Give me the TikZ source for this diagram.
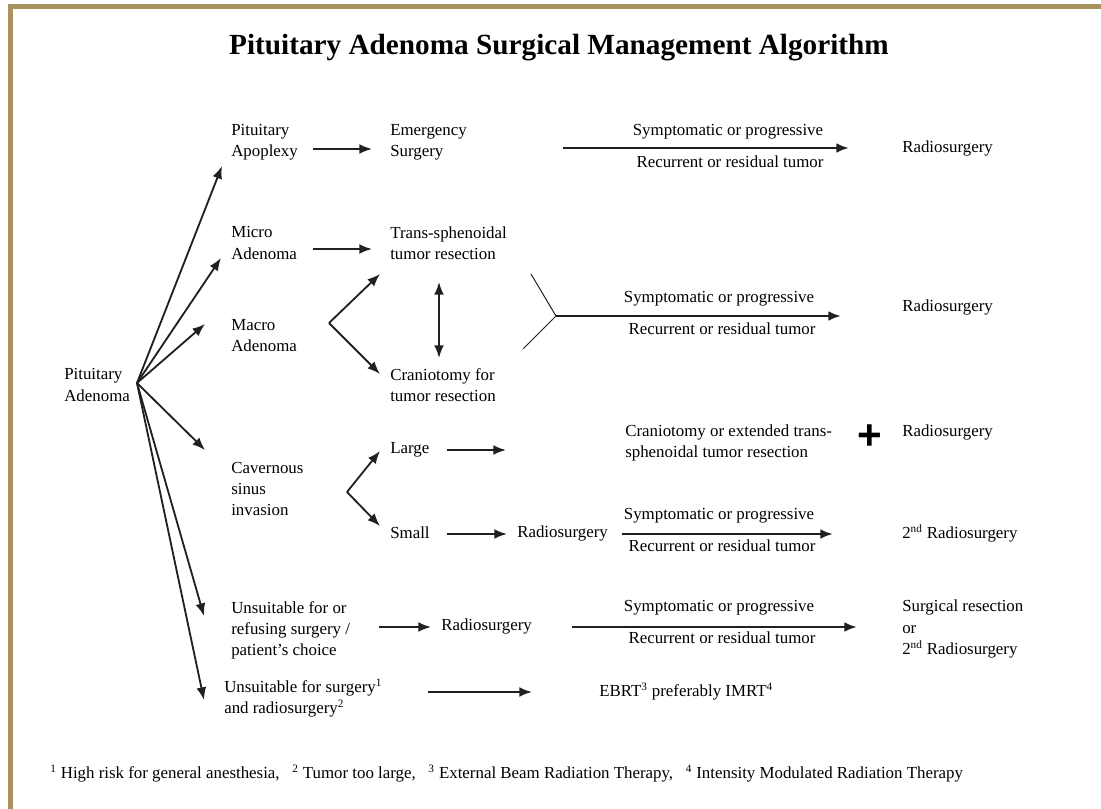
\documentclass[tikz,border=0pt]{standalone}
\usepackage{fontspec}
\setmainfont{Liberation Serif}
\newfontfamily\plusfont{Liberation Sans}
\usepackage{tikz}
\usetikzlibrary{arrows.meta}
\definecolor{framegold}{RGB}{168,146,96}
\definecolor{ink}{RGB}{35,31,32}
\tikzset{
    every node/.style={inner sep=0pt, anchor=west, align=left,
    	font=\fontsize{12}{15}\selectfont}
}
\tikzset{
    every edge/.append style={draw=ink, line width=1.3pt,
    	-{Latex[length=9pt,width=7pt]}}
}
\tikzset{
	long edge/.style={line width=1.8pt},
	thin edge/.style={line width=0.7pt, -},
	both tips/.style={{Latex[length=9pt,width=7pt]}-{Latex[length=9pt,width=7pt]}},
	cond/.style={anchor=center, align=center},
	title text/.style={anchor=center, font=\fontsize{20.8}{24}\bfseries\selectfont},
	frame line/.style={draw=framegold, line width=3.6pt}
}

\begin{document}
\begin{tikzpicture}[x=0.025cm, y=-0.025cm]
	\useasboundingbox (0,0) rectangle (1101,809);
	\draw[frame line] (10.5,809) -- (10.5,6.5) -- (1101,6.5);

	\node (title) [title text] at (559,48) {Pituitary Adenoma Surgical Management Algorithm};

	% first column
	\node (adenoma) at (64,385) {Pituitary\\Adenoma};
	\node (apoplexy) at (231,142) {Pituitary\\Apoplexy};
	\node (micro) at (231,243) {Micro\\Adenoma};
	\node (macro) at (231,336) {Macro\\Adenoma};
	\node (cavernous) at (231,489) {Cavernous\\sinus\\invasion};
	\node (refusing) at (231,630) {Unsuitable for or\\refusing surgery /\\patient's choice};
	\node (unsuitable) at (224,698) {Unsuitable for surgery\textsuperscript{1}\\and radiosurgery\textsuperscript{2}};

	% second column
	\node (emergency) at (390,142) {Emergency\\Surgery};
	\node (transsph) at (390,243) {Trans-sphenoidal\\tumor resection};
	\node (craniotomy) at (390,385) {Craniotomy for\\tumor resection};
	\node (large) at (390,450) {Large};
	\node (small) at (390,533) {Small};
	\node (rs small) at (517,533) {Radiosurgery};
	\node (rs refusing) at (441,626) {Radiosurgery};
	\node (extended) at (625,443) {Craniotomy or extended trans-\\sphenoidal tumor resection};
	\node (ebrt) at (599,692) {EBRT\textsuperscript{3} preferably IMRT\textsuperscript{4}};

	% conditions
	\node (sym a) [cond] at (728,132) {Symptomatic or progressive};
	\node (rec a) [cond] at (730,162) {Recurrent or residual tumor};
	\node (sym b) [cond] at (719,299) {Symptomatic or progressive};
	\node (rec b) [cond] at (722,329) {Recurrent or residual tumor};
	\node (sym c) [cond] at (719,516) {Symptomatic or progressive};
	\node (rec c) [cond] at (722,546) {Recurrent or residual tumor};
	\node (sym d) [cond] at (719,608) {Symptomatic or progressive};
	\node (rec d) [cond] at (722,638) {Recurrent or residual tumor};

	% last column
	\node (rs apoplexy) at (902,148) {Radiosurgery};
	\node (rs adenoma) at (902,307) {Radiosurgery};
	\node (plus) [anchor=center, font=\fontsize{30}{30}\plusfont\bfseries] at (870,437) {+};
	\node (rs large) at (902,432) {Radiosurgery};
	\node (rs second) at (902,533) {2\textsuperscript{nd} Radiosurgery};
	\node (resection) at (902,629) {Surgical resection\\or\\2\textsuperscript{nd} Radiosurgery};

	\node (footnote) at (50,774) {\textsuperscript{1} High risk for general anesthesia,\ \ \ \textsuperscript{2} Tumor too large,\ \ \ \textsuperscript{3} External Beam Radiation Therapy,\ \ \ \textsuperscript{4} Intensity Modulated Radiation Therapy};

	% arrow ends
	\coordinate (fan) at (137,383);
	\coordinate (to apoplexy) at (222,166);
	\coordinate (to micro) at (221,258);
	\coordinate (to macro) at (205,324);
	\coordinate (to cavernous) at (205,450);
	\coordinate (to refusing) at (204,616);
	\coordinate (to unsuitable) at (204,700);
	\coordinate (apoplexy out) at (313,149);
	\coordinate (emergency in) at (372,149);
	\coordinate (emergency out) at (563,148);
	\coordinate (rs apoplexy in) at (849,148);
	\coordinate (micro out) at (313,249);
	\coordinate (transsph in) at (372,249);
	\coordinate (macro fork) at (329,323);
	\coordinate (transsph low) at (380,274);
	\coordinate (craniotomy in) at (380,374);
	\coordinate (swap top) at (439,282);
	\coordinate (swap bottom) at (439,358);
	\coordinate (join top) at (531,274);
	\coordinate (join bottom) at (523,349);
	\coordinate (join) at (556,316);
	\coordinate (rs adenoma in) at (841,316);
	\coordinate (cavernous fork) at (347,492);
	\coordinate (large in) at (380,451);
	\coordinate (small in) at (380,526);
	\coordinate (large out) at (447,450);
	\coordinate (extended in) at (506,450);
	\coordinate (small out) at (447,534);
	\coordinate (rs small in) at (507,534);
	\coordinate (rs small out) at (622,534);
	\coordinate (rs second in) at (833,534);
	\coordinate (refusing out) at (379,627);
	\coordinate (rs refusing in) at (431,627);
	\coordinate (rs refusing out) at (572,627);
	\coordinate (resection in) at (857,627);
	\coordinate (unsuitable out) at (428,692);
	\coordinate (ebrt in) at (532,692);

	\draw (fan) edge (to apoplexy); \draw (fan) edge (to micro);
	\draw (fan) edge (to macro); \draw (fan) edge (to cavernous);
	\draw (fan) edge (to refusing); \draw (fan) edge (to unsuitable);

	\draw (apoplexy out) edge (emergency in);
	\draw (emergency out) edge[long edge] (rs apoplexy in);
	\draw (micro out) edge (transsph in);
	\draw (macro fork) edge (transsph low); \draw (macro fork) edge (craniotomy in);
	\draw (swap top) edge[both tips] (swap bottom);
	\draw (join top) edge[thin edge] (join); \draw (join bottom) edge[thin edge] (join);
	\draw (join) edge[long edge] (rs adenoma in);
	\draw (cavernous fork) edge (large in); \draw (cavernous fork) edge (small in);
	\draw (large out) edge (extended in);
	\draw (small out) edge (rs small in);
	\draw (rs small out) edge[long edge] (rs second in);
	\draw (refusing out) edge (rs refusing in);
	\draw (rs refusing out) edge[long edge] (resection in);
	\draw (unsuitable out) edge (ebrt in);
\end{tikzpicture}
\end{document}
